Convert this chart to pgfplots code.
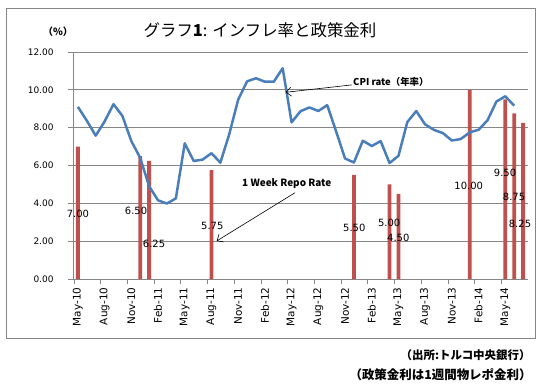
\documentclass[border=0pt]{standalone}
\usepackage{pgfplots}
\pgfplotsset{compat=1.18}
\usepackage{fontspec}
\setmainfont{DejaVu Sans}
\newfontfamily\jp{Noto Sans CJK JP}
\usetikzlibrary{arrows.meta}
\definecolor{cpiblue}{HTML}{4A7EBB}
\definecolor{barred}{HTML}{C0504D}
\definecolor{gridgray}{HTML}{868686}
\begin{document}
\begin{tikzpicture}[x=1bp,y=1bp]
\useasboundingbox (0,0) rectangle (542,388);
\fill[white] (0,0) rectangle (542,388);
\draw[gridgray, line width=0.75bp] (6.5,50) rectangle (535,380);
\node[font=\jp\fontsize{16.5}{19}\selectfont] at (260,358) {グラフ{\bfseries 1}: インフレ率と政策金利};
\node[font=\jp\bfseries\fontsize{10}{12}\selectfont] at (58,356) {（\%）};
\node[font=\jp\bfseries\fontsize{11.5}{13}\selectfont, anchor=east] at (534,33) {（出所:トルコ中央銀行）};
\node[font=\jp\bfseries\fontsize{12.5}{14}\selectfont, anchor=east] at (535,13) {（政策金利は1週間物レポ金利）};
\begin{axis}[
  at={(73bp,109bp)}, anchor=south west,
  scale only axis, width=455bp, height=227bp,
  xmin=-0.1, xmax=51, ymin=0, ymax=12,
  axis x line*=bottom, axis y line*=left,
  axis line style={gridgray, line width=0.75bp, -},
  ytick={0,2,...,12},
  ymajorgrids, grid style={gridgray, line width=0.75bp},
  xtick={0,3,...,48},
  xticklabels={May-10,Aug-10,Nov-10,Feb-11,May-11,Aug-11,Nov-11,Feb-12,May-12,Aug-12,Nov-12,Feb-13,May-13,Aug-13,Nov-13,Feb-14,May-14},
  x tick label style={xshift=4bp, rotate=90, anchor=east, font=\fontsize{10.5}{12}\selectfont},
  y tick label style={xshift=-11bp, font=\fontsize{9}{11}\selectfont, /pgf/number format/.cd, fixed, fixed zerofill, precision=2, assume math mode=true},
  tick align=outside, major tick length=5bp,
  tick style={gridgray, line width=0.75bp},
  clip=false,
]
\addplot[ybar, bar width=3.8bp, fill=barred, draw=none] coordinates {
(0.45,7.00) (7.45,6.50) (8.45,6.25) (15.45,5.75) (31.45,5.50) (35.45,5.00) (36.45,4.50) (44.45,10.00) (48.45,9.50) (49.45,8.75) (50.45,8.25)
};
\addplot[cpiblue, line width=2.5bp, mark=none, line join=round] coordinates {
(0.45,9.10) (1.45,8.37) (2.45,7.58) (3.45,8.33) (4.45,9.24) (5.45,8.62) (6.45,7.29) (7.45,6.40)
(8.45,4.90) (9.45,4.16) (10.45,3.99) (11.45,4.26) (12.45,7.17) (13.45,6.24) (14.45,6.31) (15.45,6.65)
(16.45,6.15) (17.45,7.66) (18.45,9.48) (19.45,10.45) (20.45,10.61) (21.45,10.43) (22.45,10.43) (23.45,11.14)
(24.45,8.28) (25.45,8.87) (26.45,9.07) (27.45,8.88) (28.45,9.19) (29.45,7.80) (30.45,6.37) (31.45,6.16)
(32.45,7.31) (33.45,7.03) (34.45,7.29) (35.45,6.13) (36.45,6.51) (37.45,8.30) (38.45,8.88) (39.45,8.17)
(40.45,7.88) (41.45,7.71) (42.45,7.32) (43.45,7.40) (44.45,7.75) (45.45,7.89) (46.45,8.39) (47.45,9.38)
(48.45,9.66) (49.45,9.16)
};
\begin{scope}[font=\fontsize{10}{12}\selectfont]
\node at (axis cs:0.46,3.44) {7.00};
\node at (axis cs:6.98,3.59) {6.50};
\node at (axis cs:9.00,1.85) {6.25};
\node at (axis cs:15.54,2.82) {5.75};
\node at (axis cs:31.49,2.71) {5.50};
\node at (axis cs:35.41,2.98) {5.00};
\node at (axis cs:36.43,2.20) {4.50};
\node at (axis cs:44.34,4.93) {10.00};
\node at (axis cs:48.42,5.62) {9.50};
\node at (axis cs:49.43,4.33) {8.75};
\node at (axis cs:50.10,2.89) {8.25};
\end{scope}
\node[font=\jp\bfseries\fontsize{9.5}{11}\selectfont, anchor=west, inner sep=0pt] at (axis cs:31.35,10.43) {CPI rate（年率）};
\draw[-{Straight Barb[length=5bp,width=9bp]}, line width=0.6bp] (axis cs:31.2,10.26) -- (axis cs:23.79,9.87);
\node[font=\jp\bfseries\fontsize{10}{12}\selectfont, anchor=west, inner sep=0pt] at (axis cs:18.88,5.06) {1 Week Repo Rate};
\draw[-{Straight Barb[length=5bp,width=9bp]}, line width=0.6bp] (axis cs:24.83,4.56) -- (axis cs:16.04,2.01);
\end{axis}
\end{tikzpicture}
\end{document}
